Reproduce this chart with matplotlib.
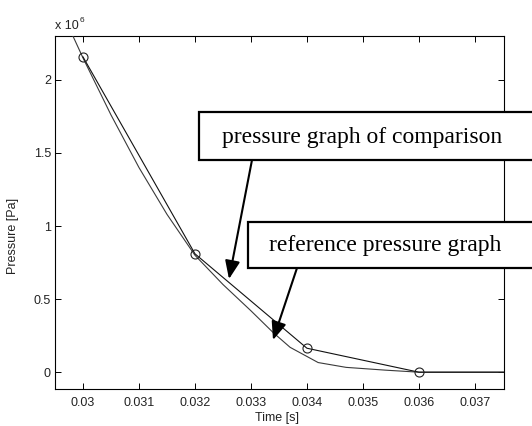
import matplotlib
matplotlib.use("Agg")
import matplotlib.pyplot as plt
from matplotlib.patches import Rectangle

# Comparison run: sampled every 2 ms (values in units of 1e6 Pa)
t_cmp = [0.0300, 0.0320, 0.0340, 0.0360, 0.0380]
p_cmp = [2.157, 0.810, 0.164, 0.000, 0.000]
marked = [0, 1, 2, 3]

# Reference run: finely resolved curve (values in units of 1e6 Pa)
t_ref = [0.0297, 0.0300, 0.0305, 0.0310, 0.0315, 0.0320, 0.0325, 0.0330,
         0.0334, 0.0337, 0.0342, 0.0347, 0.0354, 0.0360, 0.0380]
p_ref = [2.40, 2.15, 1.76, 1.40, 1.08, 0.80, 0.60, 0.42,
         0.27, 0.17, 0.066, 0.033, 0.014, 0.000, 0.000]

x_ticks = [0.030, 0.031, 0.032, 0.033, 0.034, 0.035, 0.036, 0.037]
x_labels = ["0.03", "0.031", "0.032", "0.033", "0.034", "0.035", "0.036", "0.037"]
y_ticks = [0.0, 0.5, 1.0, 1.5, 2.0]
y_labels = ["0", "0.5", "1", "1.5", "2"]

W, H = 532, 426
fig = plt.figure(figsize=(W / 100, H / 100), dpi=100)
fig.patch.set_facecolor("white")


def fx(px):
    return px / W


def fy(py):
    return 1 - py / H


sans = ["Liberation Sans", "DejaVu Sans"]
serif = ["Liberation Serif", "DejaVu Serif"]

ax = fig.add_axes([fx(55), fy(389), fx(504) - fx(55), fy(36) - fy(389)])
ax.plot(t_ref, p_ref, color="#3a3a3a", lw=0.8, zorder=3)
ax.plot(t_cmp, p_cmp, color="#111111", lw=0.8, marker="o", markevery=marked,
        markersize=6.5, markerfacecolor="none", markeredgecolor="#222222",
        markeredgewidth=0.8, zorder=4)

ax.set_xlim(0.0295, 0.03752)
ax.set_ylim(-0.115, 2.3)
ax.set_xticks(x_ticks)
ax.set_xticklabels(x_labels, family=sans, fontsize=9, color="#222222")
ax.set_yticks(y_ticks)
ax.set_yticklabels(y_labels, family=sans, fontsize=9, color="#222222")
ax.tick_params(direction="in", length=4, width=0.7, top=True, right=True)
ax.tick_params(axis="x", pad=6)
ax.tick_params(axis="y", pad=3)
for s in ax.spines.values():
    s.set_linewidth(0.8)
    s.set_color("black")

fig.text(fx(277), fy(418), "Time [s]", family=sans, fontsize=9,
         ha="center", va="center", color="#222222")
fig.text(fx(13), fy(236), "Pressure [Pa]", family=sans, fontsize=9,
         ha="center", va="center", rotation=90, color="#222222")
fig.text(fx(55), fy(29), "x 10", family=sans, fontsize=9,
         ha="left", va="baseline", color="#222222")
fig.text(fx(80), fy(22), "6", family=sans, fontsize=6,
         ha="left", va="baseline", color="#222222")

# Callout boxes with arrows
boxes = [
    (199, 112, 160, 222, "pressure graph of comparison", (252, 160), (229, 279)),
    (248, 222, 268, 269, "reference pressure graph", (297, 268), (273, 340)),
]
for left, top, bottom, tx, label, start, tip in boxes:
    fig.add_artist(Rectangle((fx(left), fy(bottom)), fx(W + 20) - fx(left),
                             fy(top) - fy(bottom), transform=fig.transFigure,
                             facecolor="white", edgecolor="black", lw=1.6,
                             zorder=10, clip_on=False))
    fig.text(fx(tx), fy((top + bottom) / 2 + 1), label, family=serif,
             fontsize=17, ha="left", va="center", color="black", zorder=11)
    fig.add_artist(matplotlib.patches.FancyArrowPatch(
        (fx(start[0]), fy(start[1])), (fx(tip[0]), fy(tip[1])),
        transform=fig.transFigure, arrowstyle="-|>,head_length=1.1,head_width=0.45",
        mutation_scale=10, color="black", lw=1.5, shrinkA=0, shrinkB=0,
        zorder=12))

fig.savefig("out.png", dpi=100, facecolor="white")
